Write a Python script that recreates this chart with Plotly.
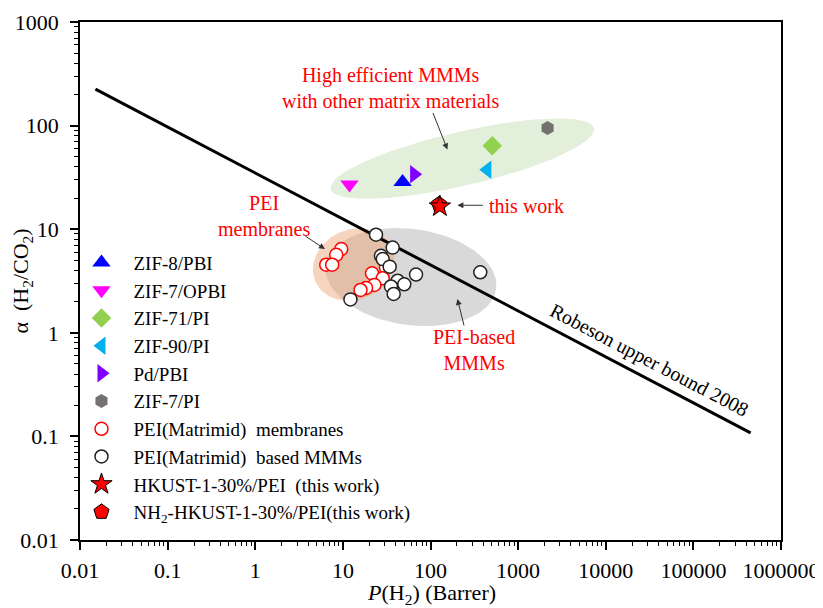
import numpy as np
import plotly.graph_objects as go

# ---------------- data ----------------
ZIF8_PBI_X = [48]; ZIF8_PBI_Y = [28.5]
ZIF7_OPBI_X = [11.9]; ZIF7_OPBI_Y = [27]
ZIF71_PI_X = [507]; ZIF71_PI_Y = [64]
ZIF90_PI_X = [445]; ZIF90_PI_Y = [37.5]
PD_PBI_X = [65]; PD_PBI_Y = [34]
ZIF7_PI_X = [2170]; ZIF7_PI_Y = [95]

PEI_MEM_X = [9.57, 8.4, 6.46, 7.55, 31.0, 21.5, 28.5, 22.9, 18.4, 15.9]
PEI_MEM_Y = [6.43, 5.66, 4.54, 4.54, 4.28, 3.75, 3.36, 2.90, 2.71, 2.59]

PEI_MMM_X = [23.9, 37.0, 27.2, 28.5, 34.2, 68.4, 370, 42.2, 50.2, 35.4, 38.0, 12.2]
PEI_MMM_Y = [8.85, 6.64, 5.53, 5.15, 4.35, 3.65, 3.84, 3.18, 2.94, 2.80, 2.37, 2.10]

HKUST_X = [128]; HKUST_Y = [16.6]
NH2_HKUST_X = [125]; NH2_HKUST_Y = [17.4]

ROBESON_X = [0.015, 450000]
ROBESON_Y = [225, 0.108]

X_TICKS = [0.01, 0.1, 1, 10, 100, 1000, 10000, 100000, 1000000]
X_TICK_LABELS = ["0.01", "0.1", "1", "10", "100", "1000", "10000", "100000", "1000000"]
Y_TICKS = [0.01, 0.1, 1, 10, 100, 1000]
Y_TICK_LABELS = ["0.01", "0.1", "1", "10", "100", "1000"]

X_TITLE = "<i>P</i>(H<sub>2</sub>) (Barrer)"
Y_TITLE = "α\u00a0 (H<sub>2</sub>/CO<sub>2</sub>)"

# ellipse regions: centre (data), semi-axes (px), angle (deg)
ELL_GREEN = (231, 48, 135, 27, 13)
ELL_GRAY = (60, 3.45, 86, 48, -8)
ELL_ORANGE = (13.3, 4.56, 42, 35, 25)

PX_X, PX_Y = 87.6, 103.6  # pixels per decade


def ellipse(cx, cy, a, b, ang, n=120):
    t = np.linspace(0, 2 * np.pi, n)
    th = np.deg2rad(ang)
    dx = a * np.cos(t) * np.cos(th) - b * np.sin(t) * np.sin(th)
    dy = a * np.cos(t) * np.sin(th) + b * np.sin(t) * np.cos(th)
    return 10 ** (np.log10(cx) + dx / PX_X), 10 ** (np.log10(cy) + dy / PX_Y)


FONT = "Liberation Serif, Times New Roman, serif"
fig = go.Figure()

for ell, col in [(ELL_GREEN, "#e2efda"), (ELL_GRAY, "#d9d9d9"), (ELL_ORANGE, "rgba(237,160,110,0.45)")]:
    ex, ey = ellipse(*ell)
    fig.add_trace(go.Scatter(x=ex, y=ey, mode="lines", fill="toself", fillcolor=col,
                             line=dict(width=0), showlegend=False, hoverinfo="skip"))

fig.add_trace(go.Scatter(x=ROBESON_X, y=ROBESON_Y, mode="lines",
                         line=dict(color="black", width=3), showlegend=False))


def mk(x, y, name, symbol, color, size, lc=None, lw=0, rank=0):
    fig.add_trace(go.Scatter(x=x, y=y, mode="markers", name=name, legendrank=rank,
                             marker=dict(symbol=symbol, color=color, size=size,
                                         line=dict(color=lc if lc else color, width=lw))))


mk(ZIF8_PBI_X, ZIF8_PBI_Y, "ZIF-8/PBI", "triangle-up", "#0000ff", 16, rank=1)
mk(ZIF7_OPBI_X, ZIF7_OPBI_Y, "ZIF-7/OPBI", "triangle-down", "#ff00ff", 16, rank=2)
mk(ZIF71_PI_X, ZIF71_PI_Y, "ZIF-71/PI", "diamond", "#92d050", 15, rank=3)
mk(ZIF90_PI_X, ZIF90_PI_Y, "ZIF-90/PI", "triangle-left", "#00b0f0", 16, rank=4)
mk(PD_PBI_X, PD_PBI_Y, "Pd/PBI", "triangle-right", "#8000ff", 16, rank=5)
mk(ZIF7_PI_X, ZIF7_PI_Y, "ZIF-7/PI", "hexagon", "#767171", 14, rank=6)
mk(PEI_MEM_X, PEI_MEM_Y, "PEI(Matrimid)\u00a0 membranes", "circle", "white", 13, "#ff0000", 1.5, rank=7)
mk(PEI_MMM_X, PEI_MMM_Y, "PEI(Matrimid)\u00a0 based MMMs", "circle", "white", 13, "#222222", 1.5, rank=8)
mk(NH2_HKUST_X, NH2_HKUST_Y, "NH<sub>2</sub>-HKUST-1-30%/PEI(this work)", "pentagon", "#ff0000", 16, "black", 1, rank=10)
mk(HKUST_X, HKUST_Y, "HKUST-1-30%/PEI\u00a0 (this work)", "star", "#ff0000", 16, "black", 1, rank=9)

red = "#ff0000"
ann = [
    dict(x=1.545, y=2.365, text="High efficient MMMs<br>with other matrix materials", font=dict(color=red, size=20)),
    dict(x=0.102, y=1.125, text="PEI<br>membranes", font=dict(color=red, size=20)),
    dict(x=3.091, y=1.221, text="this work", font=dict(color=red, size=20)),
    dict(x=2.5, y=-0.163, text="PEI-based<br>MMMs", font=dict(color=red, size=20)),
    dict(x=4.503, y=-0.266, text="Robeson upper bound 2008", textangle=27.6, font=dict(color="black", size=20)),
]
for a in ann:
    a.update(xref="x", yref="y", showarrow=False)
    a["font"]["family"] = FONT
    fig.add_annotation(**a)

# x-axis title as a paper annotation (placed below the tick labels)
fig.add_annotation(x=0.502, y=-0.105, xref="paper", yref="paper", xanchor="center", yanchor="middle",
                   text=X_TITLE, showarrow=False, font=dict(family=FONT, size=22, color="black"))

arrows = [
    (2.193, 1.769, -15, -38),
    (0.795, 0.808, -21, -14),
    (2.307, 1.231, 27, 0),
    (2.307, 0.327, 7, 28),
]
for x, y, ax, ay in arrows:
    fig.add_annotation(x=x, y=y, ax=ax, ay=ay, xref="x", yref="y", text="", showarrow=True,
                       arrowhead=2, arrowsize=1.2, arrowwidth=1, arrowcolor="#333333")

minor_x = [m * 10 ** k for k in range(-2, 6) for m in range(2, 10)]
minor_y = [m * 10 ** k for k in range(-2, 3) for m in range(2, 10)]

axis_common = dict(type="log", showgrid=False, zeroline=False, showline=True, linecolor="black",
                   linewidth=1.5, mirror=True, ticks="outside", ticklen=8, tickwidth=1.5, tickcolor="black",
                   automargin=False,
                   tickfont=dict(family=FONT, size=22, color="black"))

fig.update_xaxes(**axis_common, range=[-2, 6], tickvals=X_TICKS, ticktext=X_TICK_LABELS,
                 ticklabelstandoff=2,
                 minor=dict(tickmode="array", tickvals=minor_x, ticks="outside", ticklen=4.5, tickcolor="black",
                            tickwidth=1.2))
fig.update_yaxes(**axis_common, range=[-2, 3], tickvals=Y_TICKS, ticktext=Y_TICK_LABELS,
                 ticklabelstandoff=7,
                 minor=dict(tickmode="array", tickvals=minor_y, ticks="outside", ticklen=4.5, tickcolor="black",
                            tickwidth=1.2),
                 title=dict(text=Y_TITLE, font=dict(family=FONT, size=22, color="black")))

fig.update_layout(
    width=815, height=600,
    margin=dict(l=72, r=42, t=14, b=68, autoexpand=False),
    plot_bgcolor="white", paper_bgcolor="white",
    font=dict(family=FONT, size=20, color="black"),
    legend=dict(x=-0.015, y=0.572, xanchor="left", yanchor="top", bgcolor="rgba(0,0,0,0)",
                font=dict(family=FONT, size=19, color="black"), itemwidth=54, tracegroupgap=0),
)

fig.write_html("out.html")
